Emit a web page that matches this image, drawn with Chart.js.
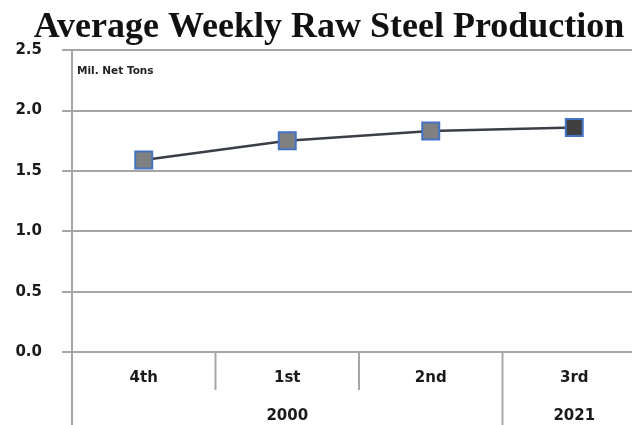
<!DOCTYPE html>
<html>
<head>
<meta charset="utf-8">
<script src="https://cdn.jsdelivr.net/npm/chart.js@4"></script>
<style>
  html, body { margin: 0; padding: 0; background: #fff; overflow: hidden; }
  #wrap { width: 672px; height: 425px; }
</style>
</head>
<body>
<div id="wrap"><canvas id="chart"></canvas></div>
<script>
// quarters and the years they belong to
const quarters = ['4th', '1st', '2nd', '3rd'];
const quarterYear = ['2000', '2000', '2000', '2021'];
const yearLabels = ['', '2000', '', '2021'];
const production = [1.59, 1.75, 1.83, 1.86];
const yTicks = [0, 0.5, 1.0, 1.5, 2.0, 2.5];

const pointFills = ['#808080', '#808080', '#808080', '#3f3f3f'];

// draws the dividers of the two-level category axis plus the unit note
const axisExtras = {
    id: 'axisExtras',
    afterDraw(chart) {
        const ctx = chart.ctx;
        const area = chart.chartArea;
        const bottom = chart.height;
        ctx.save();
        ctx.strokeStyle = '#a6a6a6';
        ctx.lineWidth = 2;
        // y axis line carried down through the label rows
        ctx.beginPath();
        ctx.moveTo(area.left, area.bottom);
        ctx.lineTo(area.left, bottom);
        ctx.stroke();
        const step = (area.right - area.left) / quarters.length;
        for (let i = 1; i < quarters.length; i++) {
            const px = area.left + step * i;
            const yearBreak = quarterYear[i] !== quarterYear[i - 1];
            ctx.beginPath();
            ctx.moveTo(px, area.bottom);
            ctx.lineTo(px, yearBreak ? bottom : area.bottom + 38);
            ctx.stroke();
        }
        ctx.fillStyle = '#222';
        ctx.font = 'bold 10.5px "DejaVu Sans"';
        ctx.textBaseline = 'middle';
        ctx.fillText('Mil. Net Tons', area.left + 5, area.top + 21);
        ctx.restore();
    }
};

Chart.defaults.font.family = "'DejaVu Sans', sans-serif";
Chart.defaults.color = '#1a1a1a';

new Chart(document.getElementById('chart').getContext('2d'), {
    type: 'line',
    data: {
        labels: quarters,
        datasets: [{
            data: production,
            borderColor: '#3a3e46',
            borderWidth: 2.5,
            pointStyle: 'rect',
            pointRadius: 12,
            pointHoverRadius: 12,
            pointBackgroundColor: pointFills,
            pointBorderColor: '#4472c4',
            pointBorderWidth: 2,
            tension: 0
        }]
    },
    options: {
        responsive: true,
        maintainAspectRatio: false,
        animation: false,
        layout: { padding: { top: 0, right: 26, bottom: 0, left: 12 } },
        plugins: {
            legend: { display: false },
            tooltip: { enabled: false },
            title: {
                display: true,
                text: 'Average Weekly Raw Steel Production',
                font: { family: "'Liberation Serif', 'Times New Roman', serif", size: 36, weight: 'bold' },
                color: '#111',
                padding: { top: 6, bottom: 1 }
            }
        },
        scales: {
            x: {
                offset: true,
                afterFit(scale) { scale.height = 42; },
                grid: { display: false, drawTicks: false },
                border: { display: false },
                ticks: { font: { size: 15, weight: 'bold' }, padding: 17 }
            },
            x2: {
                type: 'category',
                labels: yearLabels,
                position: 'bottom',
                offset: true,
                afterFit(scale) { scale.height = 31; },
                grid: { display: false, drawTicks: false },
                border: { display: false },
                ticks: { font: { size: 15, weight: 'bold' }, padding: 13, autoSkip: false }
            },
            y: {
                min: 0,
                max: 2.5,
                afterFit(scale) { scale.width = 60; },
                afterBuildTicks(scale) { scale.ticks = yTicks.map(v => ({ value: v })); },
                grid: { color: '#a6a6a6', lineWidth: 2, tickLength: 10 },
                border: { color: '#a6a6a6', width: 2 },
                ticks: {
                    font: { size: 15, weight: 'bold' },
                    padding: 20,
                    callback: v => v.toFixed(1)
                }
            }
        }
    },
    plugins: [axisExtras]
});
</script>
</body>
</html>
